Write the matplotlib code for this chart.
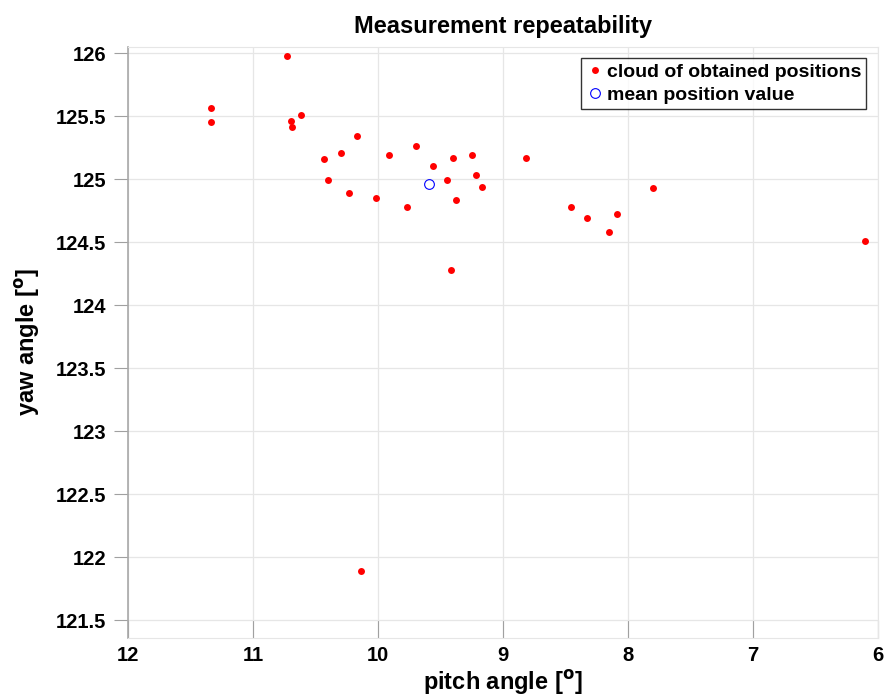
import matplotlib
matplotlib.use('Agg')
import matplotlib.pyplot as plt

plt.rcParams['font.family'] = ['Liberation Sans', 'DejaVu Sans']
plt.rcParams['font.weight'] = 'bold'
plt.rcParams['mathtext.default'] = 'bf'

# cloud of measured positions (pitch, yaw) in degrees
pitch = [10.73, 11.34, 11.34, 10.70, 10.62, 10.69, 10.17, 10.30, 10.43, 10.40,
         10.23, 10.02, 9.91, 9.70, 9.77, 9.56, 9.40, 9.45, 9.25, 9.22,
         9.17, 9.38, 9.42, 8.82, 8.46, 8.33, 8.09, 8.15, 7.80, 6.10, 10.14]
yaw = [125.98, 125.56, 125.45, 125.46, 125.51, 125.41, 125.34, 125.21, 125.16, 124.99,
       124.89, 124.85, 125.19, 125.26, 124.78, 125.10, 125.17, 124.99, 125.19, 125.03,
       124.94, 124.83, 124.28, 125.17, 124.78, 124.69, 124.72, 124.58, 124.93, 124.51, 121.89]

mean_pitch = [9.59]
mean_yaw = [124.96]

xticks = [12, 11, 10, 9, 8, 7, 6]
yticks = [121.5, 122, 122.5, 123, 123.5, 124, 124.5, 125, 125.5, 126]
ytick_labels = ['121.5', '122', '122.5', '123', '123.5', '124', '124.5', '125', '125.5', '126']

fig = plt.figure(figsize=(8.85, 6.97), dpi=100)
ax = fig.add_axes([0.145, 0.085, 0.847, 0.848])

ax.plot(pitch, yaw, 'o', color='red', markersize=5, markeredgewidth=0,
        label='cloud of obtained positions', zorder=3)
ax.plot(mean_pitch, mean_yaw, 'o', markerfacecolor='none', markeredgecolor='blue',
        markersize=7, markeredgewidth=0.8, label='mean position value', zorder=3)

ax.set_xlim(12, 6)
ax.set_ylim(121.36, 126.05)
ax.set_xticks(xticks)
ax.set_xticklabels([str(t) for t in xticks])
ax.set_yticks(yticks)
ax.set_yticklabels(ytick_labels)

ax.grid(True, color='#e6e6e6', linewidth=0.9)
ax.set_axisbelow(True)
for side in ['top', 'right', 'bottom']:
    ax.spines[side].set_color('#e6e6e6')
ax.spines['left'].set_color('#a8a8a8')
ax.spines['left'].set_linewidth(1.2)

ax.tick_params(axis='y', direction='out', length=10, color='#a0a0a0', labelsize=14.5, pad=6)
ax.tick_params(axis='x', direction='in', length=13, color='#a0a0a0', labelsize=14.5, pad=6)

ax.set_title('Measurement repeatability', fontsize=17, fontweight='bold', pad=10)
ax.set_xlabel(r'pitch angle [$^{o}$]', fontsize=17, fontweight='bold', labelpad=2)
ax.set_ylabel(r'yaw angle [$^{o}$]', fontsize=17, fontweight='bold', labelpad=10)

leg = ax.legend(loc='upper right', fontsize=14, frameon=True, fancybox=False,
                handletextpad=0.1, handlelength=1.0, borderpad=0.25,
                labelspacing=0.3, borderaxespad=0.6)
leg.get_frame().set_edgecolor('black')
leg.get_frame().set_linewidth(1.0)

fig.savefig('out.png', dpi=100)
